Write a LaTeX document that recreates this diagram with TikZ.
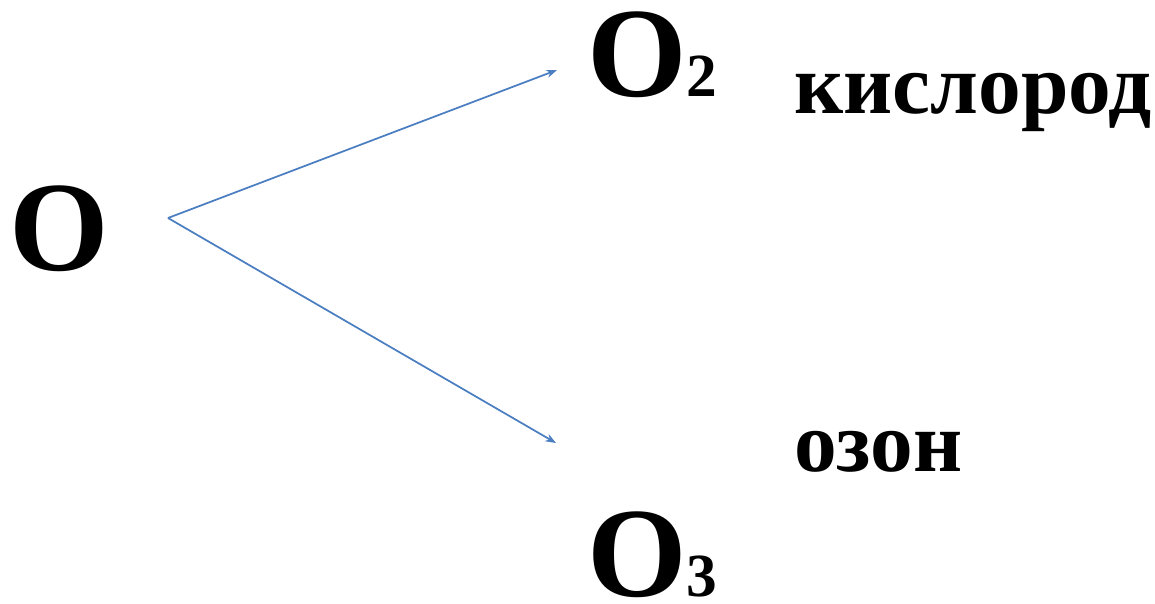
\documentclass[tikz,border=0pt]{standalone}
\usepackage{fontspec}
\setmainfont{Liberation Serif}
\usetikzlibrary{arrows.meta}
\definecolor{lineblue}{RGB}{74,126,193}
\begin{document}
\begin{tikzpicture}[x=0.75pt,y=-0.75pt,
  big/.style={anchor=base west,inner sep=0pt,text height=0.68em,text depth=0pt,font=\fontsize{96}{96}\selectfont\bfseries},
  word/.style={anchor=base west,inner sep=0pt,font=\fontsize{64}{64}\selectfont\bfseries},
  conn/.style={draw=lineblue,line width=1.3pt,-{Stealth[length=8pt,width=6pt]}}]
\useasboundingbox (0,0) rectangle (1155,603);
\newcommand{\sub}[1]{{\fontsize{46}{46}\selectfont #1}}
\node[big] (o) at (9,270) {O};
\node[big] (o2) at (587,96) {O\sub{2}};
\node[big] (o3) at (587,596) {O\sub{3}};
\node[word] (kis) at (794,113) {кислород};
\node[word] (oz) at (794,471) {озон};
\coordinate (src) at (168,218);
\coordinate (t2) at (557,70);
\coordinate (t3) at (556,443);
\draw[conn] (src) -- (t2);
\draw[conn] (src) -- (t3);
\end{tikzpicture}
\end{document}
